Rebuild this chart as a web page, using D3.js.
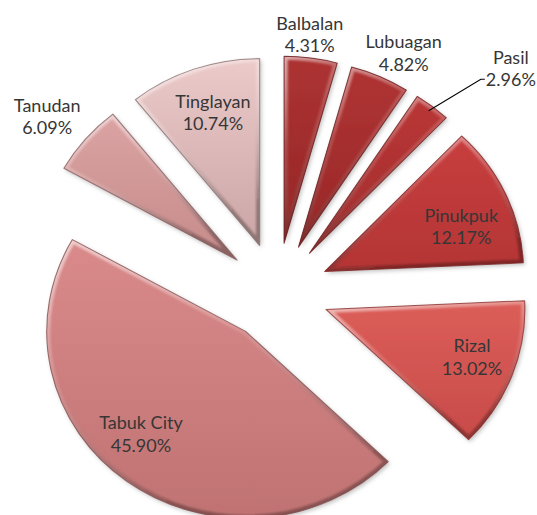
<!DOCTYPE html>
<html>
<head>
<meta charset="utf-8">
<script src="https://cdn.jsdelivr.net/npm/d3@7/dist/d3.min.js"></script>
<style>
  body { margin: 0; background: #fff; }
  svg { display: block; }
  .lbl { font-family: Lato, "Open Sans", sans-serif; font-size: 18px; fill: #363636; }
</style>
</head>
<body>
<svg id="pie" width="537" height="515"></svg>
<script>
const names = ["Balbalan", "Lubuagan", "Pasil", "Pinukpuk", "Rizal", "Tabuk City", "Tanudan", "Tinglayan"];
const shares = [4.31, 4.82, 2.96, 12.17, 13.02, 45.90, 6.09, 10.74];
const topColors = ["#ad3232", "#b03333", "#ba3737", "#c83e3e", "#dc5e59", "#da8a8a", "#dba3a3", "#eccaca"];
const bottomColors = ["#952727", "#982828", "#a22c2c", "#b43535", "#c84b49", "#c07272", "#c68b8b", "#cba5a5"];

const svg = d3.select("svg#pie");
const cx = 277, cy = 292;
const sx = 1.047, sy = 0.984;   // picture is slightly stretched
const radius = 190;
const explode = 50;

// label radius (fraction of radius) and angle shift in degrees from the slice bisector
const labelLayout = [[1.13, -1.2], [1.17, 2.7], [1.42, 7.3], [0.73, 4.8],
                     [0.775, -2.1], [0.756, 7.3], [1.23, -1.3], [0.756, 1.2]];

const pie = d3.pie().sort(null).value(d => d);
const arcs = pie(shares);
const arc = d3.arc().innerRadius(0).outerRadius(radius);

const defs = svg.append("defs");
arcs.forEach((d, i) => {
  const g = defs.append("linearGradient")
      .attr("id", "grad" + i)
      .attr("x1", 0).attr("y1", 0).attr("x2", 0).attr("y2", 1);
  g.append("stop").attr("offset", "0%").attr("stop-color", topColors[i]);
  g.append("stop").attr("offset", "100%").attr("stop-color", bottomColors[i]);
  defs.append("clipPath").attr("id", "clip" + i)
    .append("path").attr("d", arc(d));
});

// soft edge: light on the top, dark toward the bottom
const edge = defs.append("linearGradient")
    .attr("id", "edge")
    .attr("x1", 0).attr("y1", 0).attr("x2", 0.3).attr("y2", 1);
edge.append("stop").attr("offset", "0%").attr("stop-color", "#fff").attr("stop-opacity", 0.6);
edge.append("stop").attr("offset", "45%").attr("stop-color", "#fff").attr("stop-opacity", 0.15);
edge.append("stop").attr("offset", "100%").attr("stop-color", "#000").attr("stop-opacity", 0.3);

defs.append("filter").attr("id", "soft")
  .append("feGaussianBlur").attr("stdDeviation", 1.2);

const shadow = defs.append("filter").attr("id", "shadow")
    .attr("x", "-10%").attr("y", "-10%").attr("width", "130%").attr("height", "130%");
shadow.append("feDropShadow").attr("dx", 1.5).attr("dy", 2).attr("stdDeviation", 2)
    .attr("flood-color", "#000").attr("flood-opacity", 0.25);

function offsetOf(d) {
  const a = (d.startAngle + d.endAngle) / 2;
  return [explode * Math.sin(a), -explode * Math.cos(a)];
}

const chart = svg.append("g")
    .attr("transform", `translate(${cx},${cy}) scale(${sx},${sy})`);

const slice = chart.selectAll("g.slice")
  .data(arcs)
  .enter().append("g")
    .attr("class", "slice")
    .attr("transform", d => { const o = offsetOf(d); return `translate(${o[0]},${o[1]})`; });

slice.append("path")
    .attr("d", arc)
    .attr("fill", (d, i) => `url(#grad${i})`)
    .attr("filter", "url(#shadow)");

slice.append("g")
    .attr("clip-path", (d, i) => `url(#clip${i})`)
  .append("path")
    .attr("d", arc)
    .attr("fill", "none")
    .attr("stroke", "url(#edge)")
    .attr("stroke-width", 7)
    .attr("stroke-linejoin", "round")
    .attr("filter", "url(#soft)");

slice.append("path")
    .attr("d", arc)
    .attr("fill", "none")
    .attr("stroke", (d, i) => d3.color(bottomColors[i]).darker(1.1))
    .attr("stroke-opacity", 0.8)
    .attr("stroke-width", 1)
    .attr("stroke-linejoin", "round");

function toScreen(x, y) {
  return [cx + sx * x, cy + sy * y];
}

function labelPos(d, i) {
  const o = offsetOf(d);
  const a = (d.startAngle + d.endAngle) / 2 + labelLayout[i][1] * Math.PI / 180;
  const r = labelLayout[i][0] * radius;
  return toScreen(o[0] + r * Math.sin(a), o[1] - r * Math.cos(a));
}

const fmt = d3.format(".2f");
const labels = svg.append("g");
arcs.forEach((d, i) => {
  const p = labelPos(d, i);
  const t = labels.append("text")
      .attr("class", "lbl")
      .attr("text-anchor", "middle")
      .attr("x", p[0]).attr("y", p[1]);
  t.append("tspan").attr("x", p[0]).attr("dy", "-0.2em").text(names[i]);
  t.append("tspan").attr("x", p[0]).attr("dy", "1.25em").text(fmt(shares[i]) + "%");

  if (labelLayout[i][0] > 1.3) {
    // leader line for the label that was moved away from its slice
    const o = offsetOf(d);
    const a = (d.startAngle + d.endAngle) / 2;
    const s = toScreen(o[0] + 0.97 * radius * Math.sin(a), o[1] - 0.97 * radius * Math.cos(a));
    const w = t.select("tspan:last-child").node().getComputedTextLength();
    const ly = p[1] + 12;
    const lx = p[0] - w / 2;
    labels.append("polyline")
      .attr("points", [s, [lx - 5, ly], [lx - 1, ly]].map(q => q.join(",")).join(" "))
      .attr("fill", "none")
      .attr("stroke", "#000")
      .attr("stroke-width", 1.1);
  }
});
</script>
</body>
</html>
